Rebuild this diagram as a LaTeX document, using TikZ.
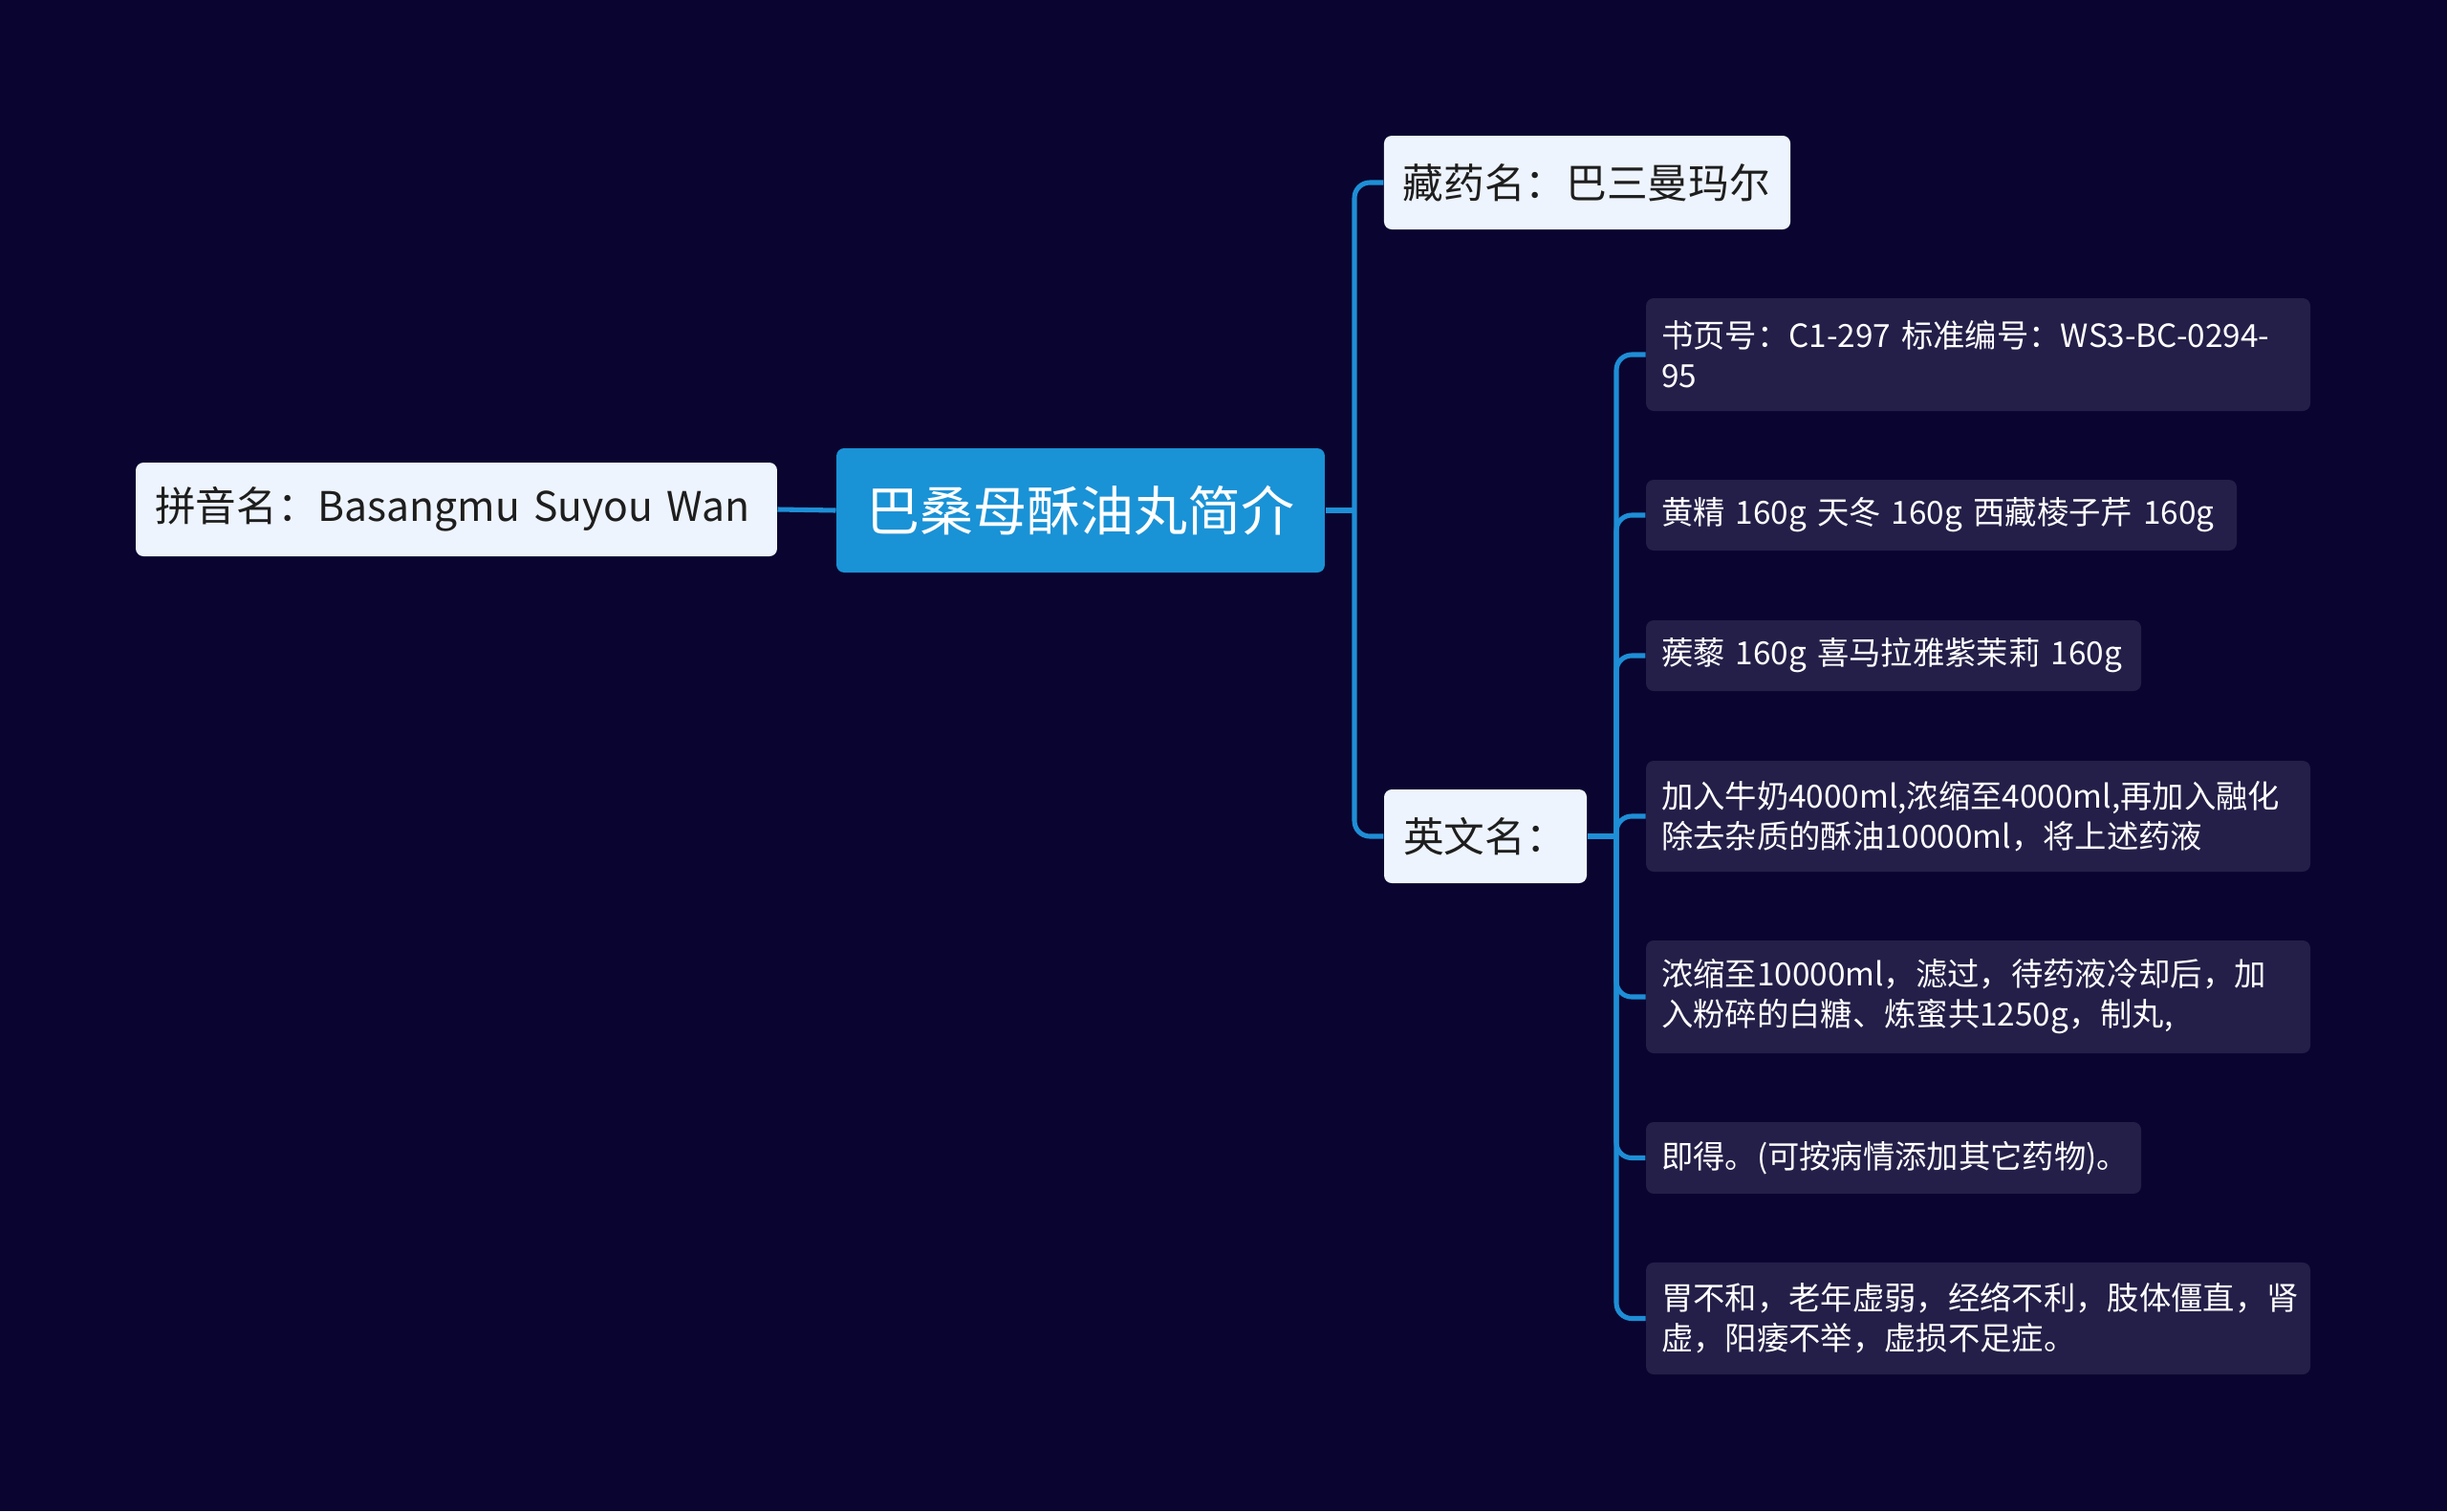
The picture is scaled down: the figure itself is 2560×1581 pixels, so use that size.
\documentclass[tikz,border=0pt]{standalone}
\usepackage{fontspec}
\newfontfamily\cjk{Noto Sans CJK SC}
\definecolor{bgc}{RGB}{10,5,48}
\definecolor{subc}{RGB}{36,31,72}
\definecolor{rootc}{RGB}{26,146,214}
\definecolor{lightc}{RGB}{238,244,253}
\definecolor{darktext}{RGB}{30,30,30}
\definecolor{connc}{RGB}{30,142,214}
\tikzset{
  lightbox/.style={fill=lightc, text=darktext, rounded corners=3pt, inner xsep=7.5pt, inner ysep=0pt,
    align=left, minimum height=36.75pt, font=\cjk\fontsize{16}{20}\selectfont},
  rootbox/.style={fill=rootc, text=white, rounded corners=3pt, inner xsep=0pt, inner ysep=0pt,
    align=center, minimum height=48.75pt, minimum width=191.6pt, font=\cjk\fontsize{21}{26}\selectfont},
  subbox/.style={fill=subc, text=white, rounded corners=3pt, inner xsep=6pt, inner ysep=0pt,
    align=left, font=\cjk\fontsize{12.5}{15.75}\selectfont},
  conn/.style={draw=connc, line width=1.9pt, rounded corners=6pt}
}
\begin{document}
\begin{tikzpicture}[x=0.375pt, y=-0.375pt]
\fill[bgc] (0,0) rectangle (2560,1581);
\useasboundingbox (0,0) rectangle (2560,1581);

\node[rootbox] (root) at (1130.5,534) {巴桑母酥油丸简介};
\node[lightbox, text width=236.6pt] (pin) at (477.5,533) {拼音名：Basangmu Suyou Wan};
\node[lightbox, text width=144.4pt] (zang) at (1660.5,191) {藏药名：巴三曼玛尔};
\node[lightbox, text width=64.5pt] (ying) at (1554,875) {英文名：};

\node[subbox, text width=248.6pt, minimum height=44.25pt] (s1) at (2069.5,371) {书页号：C1-297 标准编号：WS3-BC-0294-\\95};
\node[subbox, text width=219.75pt, minimum height=27.75pt] (s2) at (2031,539) {黄精 160g 天冬 160g 西藏棱子芹 160g};
\node[subbox, text width=182.25pt, minimum height=27.75pt] (s3) at (1981,686) {蒺藜 160g 喜马拉雅紫茉莉 160g};
\node[subbox, text width=248.6pt, minimum height=43.5pt] (s4) at (2069.5,854) {加入牛奶4000ml,浓缩至4000ml,再加入融化\\除去杂质的酥油10000ml，将上述药液};
\node[subbox, text width=248.6pt, minimum height=44.25pt] (s5) at (2069.5,1043) {浓缩至10000ml，滤过，待药液冷却后，加\\入粉碎的白糖、炼蜜共1250g，制丸,};
\node[subbox, text width=182.25pt, minimum height=28.1pt] (s6) at (1981,1211.5) {即得。(可按病情添加其它药物)。};
\node[subbox, text width=248.6pt, minimum height=43.9pt] (s7) at (2069.5,1379.5) {胃不和，老年虚弱，经络不利，肢体僵直，肾\\虚，阳痿不举，虚损不足症。};

\coordinate (t1) at (1417,534);
\coordinate (t2) at (1691,875);

\draw[conn] (pin.east) -- (root.west);
\draw[conn] (root.east) -- (t1);
\draw[conn] (t1) |- (zang.west);
\draw[conn] (t1) |- (ying.west);
\draw[conn] (ying.east) -- (t2);
\foreach \s in {s1,s2,s3,s4,s5,s6,s7} {
  \draw[conn] (t2) |- (\s.west);
}
\end{tikzpicture}
\end{document}
